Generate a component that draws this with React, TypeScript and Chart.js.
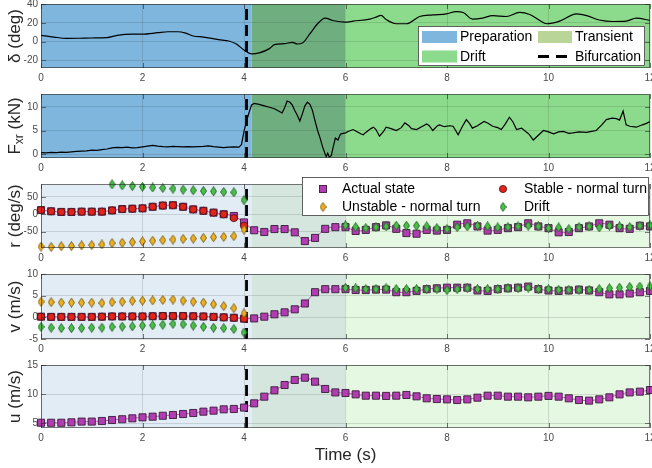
import React, { useEffect, useRef } from 'react';
import { Chart, registerables } from 'chart.js';

Chart.register(...registerables);

// ---------------- DATA ----------------
const xTickValues = [0, 2, 4, 6, 8, 10, 12];
const phaseNames = ['Preparation', 'Transient', 'Drift'];
const phaseBounds = [0, 4.15, 6, 12];
const bifurcationTime = 4.05;

// steering angle delta (deg)
const deltaTimes = [0, 0.25, 0.5, 0.75, 1.0, 1.3, 1.5, 1.8, 2.0, 2.3, 2.5, 2.7, 2.85, 3.0, 3.2, 3.5, 3.7, 3.85, 4.0, 4.15,
  4.3, 4.5, 4.6, 4.8, 4.95, 5.05, 5.15, 5.3, 5.45, 5.6, 5.75, 6.0, 6.15, 6.48, 6.6, 6.7, 6.8, 7.0, 7.2, 7.46,
  7.72, 7.99, 8.18, 8.32, 8.5, 8.7, 8.9, 9.17, 9.43, 9.63, 9.83, 9.96, 10.22, 10.55, 10.75, 11.0, 11.27, 11.53, 11.73, 12.0];
const deltaValues = [6.7, 4.9, 3.5, 3.6, 3.9, 4.2, 6.7, 8, 8, 9.5, 10.5, 10.5, 9, 6, 4.9, 2.1, 0.7, -2.5, -9, -13,
  -12, -7.4, -3.2, -2.1, -0.7, -2.5, -1.5, 8.4, 19, 25, 22.5, 20.7, 21.8, 24, 26, 28, 23.5, 19, 19, 26.7,
  28.4, 29.5, 32, 31, 24, 25, 27.7, 26.7, 31, 28.8, 22.5, 19, 21.8, 29.5, 27.7, 23, 21.4, 21.8, 25, 22.5];

// rear longitudinal force F_xr (kN)
const fxrTimes = [0, 0.1, 0.2, 0.3, 0.4, 0.5, 0.6, 0.7, 0.8, 0.9,
  1.0, 1.1, 1.2, 1.3, 1.4, 1.5, 1.6, 1.7, 1.8, 1.9,
  2.0, 2.1, 2.2, 2.3, 2.4, 2.5, 2.6, 2.7, 2.8, 2.9,
  3.0, 3.1, 3.2, 3.3, 3.4, 3.5, 3.6, 3.7, 3.8, 3.9,
  3.95, 4.0, 4.05, 4.1, 4.15, 4.2, 4.3, 4.4, 4.5, 4.6,
  4.7, 4.75, 4.8, 4.85, 4.9, 4.95, 5.0, 5.05, 5.1, 5.15,
  5.2, 5.25, 5.3, 5.35, 5.4, 5.45, 5.5, 5.55, 5.6, 5.62,
  5.65, 5.68, 5.72, 5.75, 5.78, 5.8, 5.85, 5.9, 5.95, 6.0,
  6.05, 6.1, 6.15, 6.2, 6.3, 6.35, 6.4, 6.5, 6.55, 6.6,
  6.67, 6.75, 6.8, 6.9, 7.0, 7.1, 7.17, 7.25, 7.3, 7.4,
  7.5, 7.6, 7.65, 7.72, 7.8, 7.85, 7.95, 8.05, 8.12, 8.22,
  8.3, 8.38, 8.45, 8.5, 8.6, 8.73, 8.8, 8.9, 9.0, 9.07,
  9.15, 9.23, 9.3, 9.37, 9.47, 9.55, 9.62, 9.7, 9.8, 9.9,
  10.0, 10.1, 10.2, 10.29, 10.4, 10.48, 10.6, 10.75, 10.85, 10.94,
  11.05, 11.14, 11.25, 11.34, 11.4, 11.47, 11.53, 11.6, 11.73, 11.85,
  11.93, 12.0];
const fxrValues = [0.35, 0.3, 0.4, 0.35, 0.45, 0.4, 0.5, 0.6, 0.65, 0.7,
  0.85, 0.8, 0.95, 1.1, 1.35, 1.45, 1.4, 1.5, 1.35, 1.4,
  1.55, 1.7, 1.85, 1.7, 1.6, 1.55, 1.65, 1.6, 1.55, 1.6,
  1.55, 1.6, 1.65, 1.75, 1.6, 1.5, 1.4, 1.5, 1.55, 1.5,
  2.0, 4.8, 7.0, 8.8, 10.4, 10.7, 10.5, 10.2, 9.9, 9.6,
  9.0, 8.7, 9.8, 11.2, 11.0, 10.4, 9.2, 8.2, 7.0, 8.5,
  10.2, 11.0, 10.5, 9.2, 7.0, 5.0, 3.4, 1.5, 0.0, -0.5,
  0.2, -0.6, -0.3, 1.2, 2.5, 3.4, 3.0, 4.2, 4.4, 4.5,
  4.8, 5.0, 5.2, 4.9, 4.3, 4.1, 4.6, 5.4, 5.7, 5.2,
  3.8, 4.8, 5.7, 5.4, 5.0, 5.6, 6.6, 6.0, 5.4, 5.2,
  5.8, 6.4, 6.0, 5.0, 5.9, 6.2, 5.8, 6.0, 5.9, 4.1,
  5.8, 7.3, 6.4, 5.5, 6.0, 6.9, 6.6, 5.9, 5.6, 5.2,
  6.4, 7.8, 6.8, 5.2, 5.5, 4.8, 4.2, 3.0, 4.0, 5.0,
  4.7, 4.3, 4.7, 4.8, 4.4, 4.5, 4.7, 4.6, 4.8, 5.0,
  6.2, 7.3, 7.6, 7.5, 7.2, 9.1, 6.2, 5.9, 5.7, 6.2,
  6.5, 6.9];

// sample times of the state markers (s)
const markerTimes = [0, 0.2, 0.4, 0.6, 0.8, 1, 1.2, 1.4, 1.6, 1.8, 2, 2.2, 2.4, 2.6, 2.8, 3, 3.2, 3.4, 3.6, 3.8, 4,
  4.2, 4.4, 4.6, 4.8, 5, 5.2, 5.4, 5.6, 5.8, 6, 6.2, 6.4, 6.6, 6.8, 7, 7.2, 7.4, 7.6, 7.8, 8,
  8.2, 8.4, 8.6, 8.8, 9, 9.2, 9.4, 9.6, 9.8, 10, 10.2, 10.4, 10.6, 10.8, 11, 11.2, 11.4, 11.6, 11.8, 12];
const prepTimes = [0, 0.2, 0.4, 0.6, 0.8, 1, 1.2, 1.4, 1.6, 1.8, 2, 2.2, 2.4, 2.6, 2.8, 3, 3.2, 3.4, 3.6, 3.8, 4];
const rDriftEarlyTimes = [1.4, 1.6, 1.8, 2, 2.2, 2.4, 2.6, 2.8, 3, 3.2, 3.4, 3.6, 3.8, 4];
const driftLateTimes = [6, 6.2, 6.4, 6.6, 6.8, 7, 7.2, 7.4, 7.6, 7.8, 8, 8.2, 8.4, 8.6, 8.8, 9, 9.2, 9.4, 9.6, 9.8,
  10, 10.2, 10.4, 10.6, 10.8, 11, 11.2, 11.4, 11.6, 11.8, 12];

// yaw rate r (deg/s)
const rActual = [12, 8.5, 6.6, 6.6, 7.5, 7.5, 7.5, 11, 15, 16, 17, 21.5, 25, 26, 21.5, 14, 10, 4.7, 0, -5, -23.5,
  -46, -51, -42.5, -42.5, -52, -77, -68, -42, -37, -37, -48, -45, -37, -32, -42, -54, -56, -45, -47, -45,
  -30, -26, -35, -47, -45, -40, -37, -26, -35, -40, -52, -51, -40, -35, -26, -30, -40, -42, -33, -35];
const rStable = [12, 8.5, 6.6, 6.6, 7.5, 7.5, 7.5, 11, 15, 16, 17, 21.5, 25, 26, 21.5, 14, 10, 4.7, 0, -11, -33];
const rUnstable = [-93, -94, -92, -91.5, -89.6, -88.7, -86.8, -83, -82, -80, -78, -76, -74.5, -72.6, -70.8, -70, -68, -66, -65, -63, -44];
const rDriftEarly = [86, 83, 81, 79, 77, 75.5, 73.6, 70.8, 69, 67, 66, 64, 63, 40.6];
const rDriftLate = [-32, -37, -40, -37, -35, -33, -33, -33, -35, -40, -43, -37, -35, -33, -35, -38, -37, -35, -33, -35,
  -40, -38, -43, -37, -35, -38, -33, -35, -37, -33, -32];

// lateral velocity v (m/s)
const vActual = [0.15, 0.1, 0.1, 0.1, 0.1, 0.1, 0.15, 0.2, 0.2, 0.2, 0.2, 0.25, 0.3, 0.3, 0.3, 0.25, 0.2, 0.1, 0, -0.1, -0.3,
  -0.25, 0.15, 0.7, 1.15, 1.85, 3.2, 5.8, 6.5, 6.5, 6.5, 6.3, 6.3, 6.4, 6.4, 5.8, 5.8, 6.1, 6.5, 6.7, 6.85,
  6.85, 6.85, 6.2, 6.1, 6.5, 6.7, 6.85, 7.1, 6.5, 6.2, 6.1, 6.2, 6.4, 6.2, 5.8, 5.3, 5.3, 5.5, 5.8, 6.1];
const vStable = [0.15, 0.1, 0.1, 0.1, 0.1, 0.1, 0.15, 0.2, 0.2, 0.2, 0.2, 0.25, 0.3, 0.3, 0.3, 0.25, 0.2, 0.1, 0, -0.1, -0.3];
const vUnstable = [3.6, 3.5, 3.4, 3.4, 3.4, 3.4, 3.3, 3.5, 3.6, 3.8, 3.85, 3.9, 4.0, 4.1, 3.85, 3.6, 3.4, 3.0, 2.6, 2.1, 0.9];
const vDriftEarly = [-2.2, -2.4, -2.5, -2.5, -2.5, -2.4, -2.4, -2.2, -2.15, -2.1, -1.9, -1.85, -1.7, -1.5, -1.6, -1.9, -2.2, -2.4, -2.5, -2.7, -3.5];
const vDriftLate = [6.8, 6.7, 6.5, 6.5, 6.7, 6.5, 6.5, 6.5, 6.5, 6.5, 6.3, 6.5, 6.7, 6.5, 6.5, 6.5, 6.7, 6.7, 6.85, 6.5,
  6.5, 6.35, 6.35, 6.35, 6.35, 6.5, 6.7, 6.85, 7.0, 7.1, 7.15];

// longitudinal velocity u (m/s)
const uActual = [5.1, 5.1, 5.1, 5.17, 5.3, 5.3, 5.4, 5.57, 5.7, 5.86, 6.03, 6.14, 6.3, 6.43, 6.6, 6.77, 7.0, 7.17, 7.4, 7.46, 7.7,
  8.43, 9.57, 10.66, 11.57, 12.43, 12.83, 12.14, 10.89, 10.3, 10.2, 9.97, 9.74, 9.74, 9.7, 9.74, 9.86, 9.63, 9.29, 9.17, 9.11,
  9.0, 9.11, 9.4, 9.74, 9.74, 9.57, 9.57, 9.46, 9.57, 9.7, 9.57, 9.29, 9.0, 8.89, 9.11, 9.46, 9.97, 10.3, 10.43, 10.71];

// ---------------- STYLE ----------------
const FONT = '"Liberation Sans", Arial, Helvetica, sans-serif';
const W = 652;
const H = 468;
const PLOT_LEFT = 41;
const PLOT_RIGHT = 650;
const GRID = 'rgba(38,38,38,0.14)';
const FRAME = 'rgba(38,38,38,0.6)';
const TICK_TXT = '#4a4a4a';
const LABEL_TXT = '#262626';
const DARK_BANDS = ['#7EB6DD', '#6FAE7E', '#8CDB8C'];
const LIGHT_BANDS = ['#E1ECF5', '#D5E6DF', '#E5F8E1'];
const LEGEND_TRANSIENT = '#B9D598';
const MAG = '#B23DB0';
const MAG_LINE = '#C04FC0';
const MAG_EDGE = '#3a1a3a';
const RED = '#E3241B';
const ORANGE = '#EDB120';
const GREEN = '#48C048';

function diamond(fill: string, stroke: string): HTMLCanvasElement {
  const w = 7, h = 10;
  const c = document.createElement('canvas');
  c.width = w; c.height = h;
  const g = c.getContext('2d')!;
  g.beginPath();
  g.moveTo(w / 2, 0.5); g.lineTo(w - 0.5, h / 2); g.lineTo(w / 2, h - 0.5); g.lineTo(0.5, h / 2);
  g.closePath();
  g.fillStyle = fill; g.fill();
  g.lineWidth = 0.8; g.strokeStyle = stroke; g.stroke();
  return c;
}

const pts = (xs: number[], ys: number[]) => ys.map((y, i) => ({ x: xs[i], y }));

type Panel = {
  top: number; bottom: number; min: number; max: number; yTicks: number[];
  dark: boolean; title: string; sub?: string; after?: string;
  datasets: any[]; legend?: 'phases' | 'states'; xTitle?: string;
};

function bifurcation(min: number, max: number) {
  return {
    data: [{ x: bifurcationTime, y: min }, { x: bifurcationTime, y: max }],
    showLine: true, borderColor: '#000', borderWidth: 2.8, borderDash: [11, 5],
    pointRadius: 0, order: 10,
  };
}

function stateSets(actual: number[], stable: number[], unstable: number[], driftT: number[][], driftV: number[][], dO: HTMLCanvasElement, dG: HTMLCanvasElement) {
  const sets: any[] = [
    {
      data: pts(markerTimes, actual), showLine: true, borderColor: MAG_LINE, borderWidth: 1,
      tension: 0.3, pointStyle: 'rect', pointRadius: 5, pointBackgroundColor: MAG,
      pointBorderColor: MAG_EDGE, pointBorderWidth: 0.9, order: 5, clip: false,
    },
  ];
  if (stable.length) {
    sets.push({
      data: pts(prepTimes, stable), showLine: false, pointStyle: 'circle', pointRadius: 3.6,
      pointBackgroundColor: RED, pointBorderColor: '#4a0c0c', pointBorderWidth: 0.8, order: 4, clip: false,
    });
    sets.push({
      data: pts(prepTimes, unstable), showLine: false, pointStyle: dO, pointRadius: 4, order: 3, clip: false,
    });
  }
  driftT.forEach((t, i) => sets.push({
    data: pts(t, driftV[i]), showLine: false, pointStyle: dG, pointRadius: 4, order: 2, clip: false,
  }));
  return sets;
}

function drawPhaseLegend(ctx: CanvasRenderingContext2D) {
  ctx.save();
  ctx.fillStyle = '#fff';
  ctx.fillRect(418, 26, 227, 40);
  ctx.strokeStyle = '#3a3a3a'; ctx.lineWidth = 0.8;
  ctx.strokeRect(418.5, 26.5, 226, 39);
  const rows = [37, 56.5];
  ctx.fillStyle = DARK_BANDS[0]; ctx.fillRect(422, rows[0] - 6, 35, 12);
  ctx.fillStyle = LEGEND_TRANSIENT; ctx.fillRect(538, rows[0] - 6, 34, 12);
  ctx.fillStyle = DARK_BANDS[2]; ctx.fillRect(422, rows[1] - 6, 35, 12);
  ctx.strokeStyle = '#000'; ctx.lineWidth = 3; ctx.setLineDash([11, 7]);
  ctx.beginPath(); ctx.moveTo(538, rows[1]); ctx.lineTo(572, rows[1]); ctx.stroke();
  ctx.setLineDash([]);
  ctx.fillStyle = '#000'; ctx.font = `14px ${FONT}`; ctx.textBaseline = 'middle'; ctx.textAlign = 'left';
  ctx.fillText(phaseNames[0], 460, rows[0] + 0.5);
  ctx.fillText(phaseNames[1], 575, rows[0] + 0.5);
  ctx.fillText(phaseNames[2], 460, rows[1] + 0.5);
  ctx.fillText('Bifurcation', 575, rows[1] + 0.5);
  ctx.restore();
}

function drawStateLegend(ctx: CanvasRenderingContext2D, dO: HTMLCanvasElement, dG: HTMLCanvasElement) {
  ctx.save();
  ctx.fillStyle = '#fff';
  ctx.fillRect(302, 177, 347, 39);
  ctx.strokeStyle = '#3a3a3a'; ctx.lineWidth = 0.8;
  ctx.strokeRect(302.5, 177.5, 346, 38);
  const r1 = 189, r2 = 207;
  ctx.fillStyle = MAG; ctx.fillRect(319.5, r1 - 3.5, 7, 7);
  ctx.strokeStyle = MAG_EDGE; ctx.lineWidth = 0.9; ctx.strokeRect(319.5, r1 - 3.5, 7, 7);
  ctx.beginPath(); ctx.arc(503, r1, 3.6, 0, Math.PI * 2);
  ctx.fillStyle = RED; ctx.fill(); ctx.strokeStyle = '#4a0c0c'; ctx.lineWidth = 0.8; ctx.stroke();
  ctx.drawImage(dO, 323 - dO.width / 2, r2 - dO.height / 2);
  ctx.drawImage(dG, 503 - dG.width / 2, r2 - dG.height / 2);
  ctx.fillStyle = '#000'; ctx.font = `14px ${FONT}`; ctx.textBaseline = 'middle'; ctx.textAlign = 'left';
  ctx.fillText('Actual state', 342, r1 + 0.5);
  ctx.fillText('Stable - normal turn', 524, r1 + 0.5);
  ctx.fillText('Unstable - normal turn', 342, r2 + 0.5);
  ctx.fillText('Drift', 524, r2 + 0.5);
  ctx.restore();
}

function buildConfig(p: Panel, dO: HTMLCanvasElement, dG: HTMLCanvasElement): any {
  const bands = {
    id: 'bands',
    beforeDraw(chart: any) {
      const { ctx, chartArea: a, scales } = chart;
      const x = scales.x;
      ctx.save();
      for (let i = 0; i < phaseNames.length; i++) {
        const x0 = x.getPixelForValue(phaseBounds[i]);
        const x1 = x.getPixelForValue(phaseBounds[i + 1]);
        ctx.fillStyle = (p.dark ? DARK_BANDS : LIGHT_BANDS)[i];
        ctx.fillRect(x0, a.top, x1 - x0, a.bottom - a.top);
      }
      ctx.restore();
    },
  };
  const overlay = {
    id: 'overlay',
    afterDraw(chart: any) {
      const { ctx, chartArea: a, scales } = chart;
      const xs = scales.x, ys = scales.y;
      ctx.save();
      ctx.strokeStyle = FRAME; ctx.lineWidth = 1;
      ctx.strokeRect(a.left + 0.5, a.top + 0.5, a.right - a.left - 1, a.bottom - a.top - 1);
      ctx.beginPath();
      for (const t of xs.ticks) {
        const px = Math.round(xs.getPixelForValue(t.value)) + 0.5;
        ctx.moveTo(px, a.bottom); ctx.lineTo(px, a.bottom - 5);
        ctx.moveTo(px, a.top); ctx.lineTo(px, a.top + 5);
      }
      for (const t of ys.ticks) {
        const py = Math.round(ys.getPixelForValue(t.value)) + 0.5;
        ctx.moveTo(a.left, py); ctx.lineTo(a.left + 5, py);
        ctx.moveTo(a.right, py); ctx.lineTo(a.right - 5, py);
      }
      ctx.stroke();

      // y-axis title
      ctx.fillStyle = LABEL_TXT;
      ctx.translate(15, (a.top + a.bottom) / 2);
      ctx.rotate(-Math.PI / 2);
      ctx.textBaseline = 'middle';
      if (p.sub) {
        ctx.font = `17px ${FONT}`;
        const w1 = ctx.measureText(p.title).width;
        const w3 = ctx.measureText(p.after || '').width;
        ctx.font = `12px ${FONT}`;
        const w2 = ctx.measureText(p.sub).width;
        let x0 = -(w1 + w2 + w3) / 2;
        ctx.textAlign = 'left';
        ctx.font = `17px ${FONT}`;
        ctx.fillText(p.title, x0, 0);
        x0 += w1;
        ctx.font = `12px ${FONT}`;
        ctx.fillText(p.sub, x0, 5);
        x0 += w2;
        ctx.font = `17px ${FONT}`;
        ctx.fillText(p.after || '', x0, 0);
      } else {
        ctx.font = `17px ${FONT}`;
        ctx.textAlign = 'center';
        ctx.fillText(p.title, 0, 0);
      }
      ctx.restore();

      if (p.legend === 'phases') drawPhaseLegend(ctx);
      if (p.legend === 'states') drawStateLegend(ctx, dO, dG);
      if (p.xTitle) {
        ctx.save();
        ctx.fillStyle = LABEL_TXT; ctx.font = `17px ${FONT}`;
        ctx.textAlign = 'center'; ctx.textBaseline = 'middle';
        ctx.fillText(p.xTitle, (a.left + a.right) / 2, 455);
        ctx.restore();
      }
    },
  };
  const tickFont = { family: FONT, size: 10 };
  return {
    type: 'scatter',
    data: { datasets: p.datasets },
    options: {
      animation: false,
      responsive: false,
      devicePixelRatio: 1,
      events: [],
      layout: { autoPadding: false, padding: { left: 0, right: W - PLOT_RIGHT, top: p.top, bottom: H - p.bottom - 14 } },
      plugins: { legend: { display: false }, tooltip: { enabled: false } },
      elements: { line: { fill: false } },
      scales: {
        x: {
          type: 'linear', min: 0, max: 12,
          afterBuildTicks: (s: any) => { s.ticks = xTickValues.map((v) => ({ value: v })); },
          afterFit: (s: any) => { s.height = 14; s.paddingLeft = 0; s.paddingRight = 0; },
          grid: { color: GRID, drawTicks: false },
          border: { display: false },
          ticks: { color: TICK_TXT, font: tickFont, padding: 4, maxRotation: 0, autoSkip: false, callback: (v: any) => String(v) },
        },
        y: {
          type: 'linear', min: p.min, max: p.max,
          afterBuildTicks: (s: any) => { s.ticks = p.yTicks.map((v) => ({ value: v })); },
          afterFit: (s: any) => { s.width = PLOT_LEFT; s.paddingTop = 0; s.paddingBottom = 0; },
          grid: { color: GRID, drawTicks: false },
          border: { display: false },
          ticks: { color: TICK_TXT, font: tickFont, padding: 3, autoSkip: false, callback: (v: any) => String(v) },
        },
      },
    },
    plugins: [bands, overlay],
  };
}

export default function App() {
  const refs = useRef<(HTMLCanvasElement | null)[]>([]);
  useEffect(() => {
    const dO = diamond(ORANGE, '#6b4a00');
    const dG = diamond(GREEN, '#145214');
    const lineStyle = { showLine: true, borderColor: '#000', borderWidth: 1.2, pointRadius: 0, order: 5 };
    const panels: Panel[] = [
      {
        top: 4, bottom: 68, min: -28, max: 40, yTicks: [-20, 0, 20, 40], dark: true, title: 'δ (deg)',
        legend: 'phases',
        datasets: [bifurcation(-28, 40), { ...lineStyle, data: pts(deltaTimes, deltaValues), cubicInterpolationMode: 'monotone' }],
      },
      {
        top: 94, bottom: 158, min: -0.8, max: 12.7, yTicks: [0, 5, 10], dark: true, title: 'F', sub: 'xr', after: ' (kN)',
        datasets: [bifurcation(-0.8, 12.7), { ...lineStyle, data: pts(fxrTimes, fxrValues) }],
      },
      {
        top: 184, bottom: 248, min: -97, max: 87, yTicks: [-50, 0, 50], dark: false, title: 'r (deg/s)',
        legend: 'states',
        datasets: [bifurcation(-97, 87), ...stateSets(rActual, rStable, rUnstable, [rDriftEarlyTimes, driftLateTimes], [rDriftEarly, rDriftLate], dO, dG)],
      },
      {
        top: 274, bottom: 339, min: -5, max: 10, yTicks: [-5, 0, 5, 10], dark: false, title: 'v (m/s)',
        datasets: [bifurcation(-5, 10), ...stateSets(vActual, vStable, vUnstable, [prepTimes, driftLateTimes], [vDriftEarly, vDriftLate], dO, dG)],
      },
      {
        top: 365, bottom: 428, min: 4.2, max: 15, yTicks: [5, 10, 15], dark: false, title: 'u (m/s)',
        xTitle: 'Time (s)',
        datasets: [bifurcation(4.2, 15), ...stateSets(uActual, [], [], [], [], dO, dG)],
      },
    ];
    const charts = panels.map((p, i) => new Chart(refs.current[i] as HTMLCanvasElement, buildConfig(p, dO, dG)));
    return () => charts.forEach((c) => c.destroy());
  }, []);
  return (
    <div style={{ position: 'fixed', left: 0, top: 0, width: W, height: H, background: '#fff', overflow: 'hidden' }}>
      {[0, 1, 2, 3, 4].map((i) => (
        <canvas
          key={i}
          ref={(el) => { refs.current[i] = el; }}
          width={W}
          height={H}
          style={{ position: 'absolute', left: 0, top: 0, width: W, height: H }}
        />
      ))}
    </div>
  );
}
